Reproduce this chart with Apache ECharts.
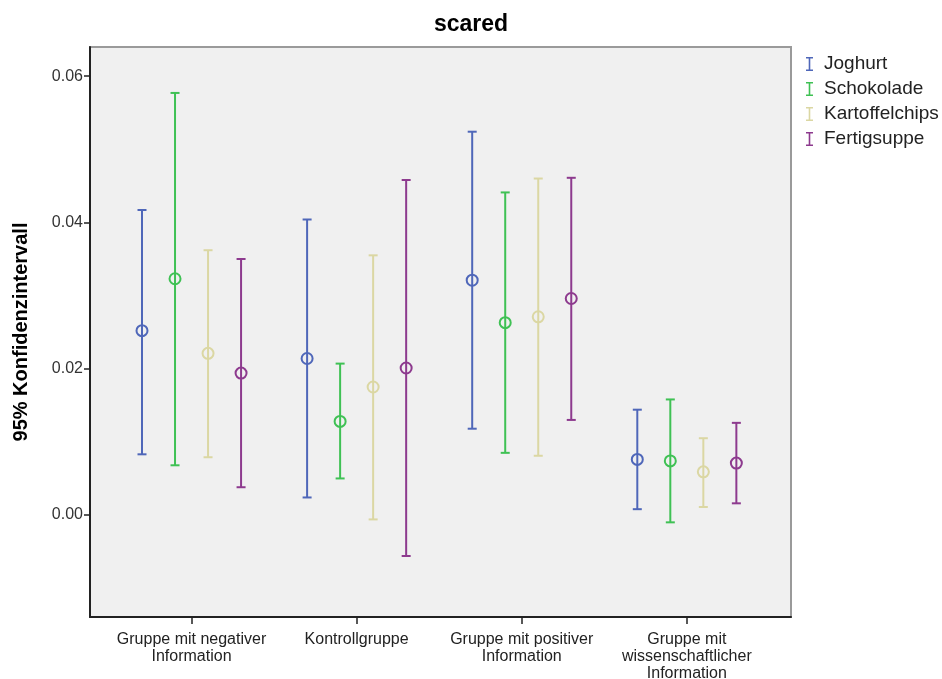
<!DOCTYPE html>
<html>
<head>
<meta charset="utf-8">
<script src="https://cdn.jsdelivr.net/npm/echarts@6/dist/echarts.min.js"></script>
<style>
  html, body { margin: 0; padding: 0; background: #ffffff; }
  #chart { width: 942px; height: 679px; }
</style>
</head>
<body>
<div id="chart"></div>
<script>
// Groups along the x axis
const categories = [
  'Gruppe mit negativer\nInformation',
  'Kontrollgruppe',
  'Gruppe mit positiver\nInformation',
  'Gruppe mit\nwissenschaftlicher\nInformation'
];

// Products (one error bar per group each)
const productNames = ['Joghurt', 'Schokolade', 'Kartoffelchips', 'Fertigsuppe'];
const productColors = ['#4f67b9', '#3fc154', '#dbd7a3', '#8d3a8e'];

// Mean and 95% confidence limits per product, in group order
const joghurtMean  = [0.0252, 0.0214, 0.0321, 0.0076];
const joghurtLower = [0.0083, 0.0024, 0.0118, 0.0008];
const joghurtUpper = [0.0417, 0.0404, 0.0524, 0.0144];

const schokoladeMean  = [0.0323, 0.0128, 0.0263, 0.0074];
const schokoladeLower = [0.0068, 0.0050, 0.0085, -0.0010];
const schokoladeUpper = [0.0577, 0.0207, 0.0441, 0.0158];

const chipsMean  = [0.0221, 0.0175, 0.0271, 0.0059];
const chipsLower = [0.0079, -0.0006, 0.0081, 0.0011];
const chipsUpper = [0.0362, 0.0355, 0.0460, 0.0105];

const suppeMean  = [0.0194, 0.0201, 0.0296, 0.0071];
const suppeLower = [0.0038, -0.0056, 0.0130, 0.0016];
const suppeUpper = [0.0350, 0.0458, 0.0461, 0.0126];

// Y tick labels
const yTicks = [0, 0.02, 0.04, 0.06];

const seriesTable = [
  [joghurtMean, joghurtLower, joghurtUpper],
  [schokoladeMean, schokoladeLower, schokoladeUpper],
  [chipsMean, chipsLower, chipsUpper],
  [suppeMean, suppeLower, suppeUpper]
];

const FONT = '"Liberation Sans", Arial, sans-serif';
const clusterStep = 0.2;

function renderErrorBar(params, api) {
  const x = api.value(0);
  const lo = api.coord([x, api.value(1)]);
  const hi = api.coord([x, api.value(2)]);
  const mid = api.coord([x, api.value(3)]);
  const color = api.visual('color');
  const style = { stroke: color, lineWidth: 2, fill: null };
  const cap = 4.5;
  return {
    type: 'group',
    children: [
      { type: 'line', shape: { x1: hi[0], y1: hi[1], x2: lo[0], y2: lo[1] }, style: style },
      { type: 'line', shape: { x1: hi[0] - cap, y1: hi[1], x2: hi[0] + cap, y2: hi[1] }, style: style },
      { type: 'line', shape: { x1: lo[0] - cap, y1: lo[1], x2: lo[0] + cap, y2: lo[1] }, style: style },
      { type: 'circle', shape: { cx: mid[0], cy: mid[1], r: 5.5 }, style: style }
    ]
  };
}

const series = productNames.map(function (name, s) {
  const [mean, lower, upper] = seriesTable[s];
  const offset = (s - 1.5) * clusterStep;
  return {
    name: name,
    type: 'custom',
    renderItem: renderErrorBar,
    itemStyle: { color: productColors[s] },
    encode: { x: 0, y: [1, 2, 3] },
    data: categories.map(function (c, i) {
      return [i + offset, lower[i], upper[i], mean[i]];
    })
  };
});

const chart = echarts.init(document.getElementById('chart'), null, { renderer: 'canvas' });
chart.setOption({
  animation: false,
  backgroundColor: '#ffffff',
  title: {
    text: 'scared',
    left: 'center',
    top: 8,
    textStyle: { fontFamily: FONT, fontSize: 23, fontWeight: 'bold', color: '#000' }
  },
  legend: {
    orient: 'vertical',
    left: 801,
    top: 49,
    itemWidth: 7,
    itemHeight: 14,
    itemGap: 5,
    icon: 'path://M0,0H7V1.6H4.3V12.4H7V14H0V12.4H2.7V1.6H0Z',
    textStyle: { fontFamily: FONT, fontSize: 19, color: '#222', lineHeight: 20, padding: [0, 0, 0, 6] },
    data: productNames
  },
  grid: {
    left: 90,
    right: 151,
    top: 47,
    bottom: 62,
    outerBoundsMode: 'none',
    containLabel: false,
    show: true,
    backgroundColor: '#f0f0f0',
    borderColor: '#9a9a9a',
    borderWidth: 2
  },
  xAxis: {
    type: 'value',
    min: -0.615,
    max: 3.631,
    splitLine: { show: false },
    axisLine: { show: true, onZero: false, lineStyle: { color: '#222', width: 2 } },
    axisTick: { show: true, customValues: [0, 1, 2, 3], length: 7, lineStyle: { color: '#222', width: 1.5 } },
    axisLabel: {
      customValues: [0, 1, 2, 3],
      formatter: function (v) { return categories[Math.round(v)]; },
      fontFamily: FONT,
      fontSize: 16,
      lineHeight: 17,
      color: '#222',
      margin: 14,
      align: 'center'
    }
  },
  yAxis: {
    type: 'value',
    min: -0.01394,
    max: 0.06398,
    name: '95% Konfidenzintervall',
    nameLocation: 'middle',
    nameGap: 59,
    nameTextStyle: { fontFamily: FONT, fontSize: 20, fontWeight: 'bold', color: '#000' },
    splitLine: { show: false },
    axisLine: { show: true, onZero: false, lineStyle: { color: '#222', width: 2 } },
    axisTick: { show: true, customValues: yTicks, length: 6, lineStyle: { color: '#222', width: 1.5 } },
    axisLabel: {
      customValues: yTicks,
      formatter: function (v) { return v.toFixed(2); },
      fontFamily: FONT,
      fontSize: 16,
      color: '#333',
      margin: 7
    }
  },
  series: series
});
</script>
</body>
</html>
